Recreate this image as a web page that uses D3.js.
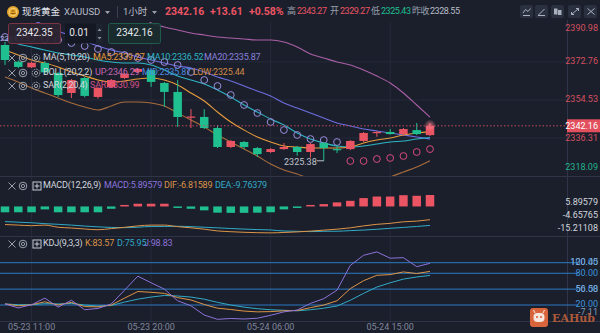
<!DOCTYPE html>
<html>
<head>
<meta charset="utf-8">
<script src="https://cdn.jsdelivr.net/npm/d3@7"></script>
<style>
body { margin: 0; background: #1b1f2c; }
svg { display: block; font-family: Roboto, "Noto Sans CJK SC", sans-serif; }
</style>
</head>
<body>
<svg id="chart" width="600" height="333"></svg>
<script>
'use strict';

// hourly candles, 05-23 09:00 .. 05-24 18:00
const opens  = [2380.91,2372.9,2370.2,2372.3,2367.5,2357.9,2365.1,2356.0,2360.8,2365.1,2368.0,2368.9,2362.7,2358.4,2346.1,2346.4,2341.1,2332.0,2334.4,2331.5,2329.6,2331.0,2332.0,2329.6,2333.9,2331.0,2331.0,2334.9,2338.7,2339.2,2338.2,2340.1,2337.7];
const highs  = [2382.35,2373.5,2373.0,2373.2,2367.9,2364.6,2365.6,2360.8,2364.6,2367.6,2369.9,2369.5,2363.2,2364.1,2350.2,2350.1,2342.5,2335.3,2334.9,2332.0,2331.5,2333.9,2332.5,2333.9,2334.4,2332.9,2335.3,2339.2,2339.6,2340.6,2341.1,2343.5,2343.27];
const lows   = [2371.32,2369.8,2369.9,2367.0,2356.0,2355.5,2355.8,2355.2,2360.3,2364.6,2367.5,2360.8,2351.2,2341.6,2341.1,2340.6,2331.5,2331.5,2331.0,2327.2,2329.1,2330.6,2327.8,2326.9,2325.38,2329.1,2330.5,2334.4,2336.9,2337.9,2337.7,2337.7,2337.2];
const closes = [2373.71,2370.4,2372.4,2367.8,2356.9,2364.1,2356.5,2360.3,2364.1,2367.2,2369.4,2363.2,2358.4,2346.4,2346.6,2341.1,2332.0,2334.9,2332.0,2328.6,2331.0,2332.0,2329.6,2333.4,2331.5,2330.5,2334.9,2338.7,2339.2,2338.2,2340.6,2338.2,2342.16];

const ma5  = [2378.51,2376.11,2373.72,2372.28,2370.36,2367.96,2366.04,2364.13,2363.17,2363.65,2364.60,2365.08,2364.13,2361.73,2357.89,2354.05,2348.78,2343.98,2340.15,2336.79,2334.39,2332.47,2332.00,2331.52,2331.52,2331.52,2332.00,2333.91,2335.35,2336.31,2337.75,2338.71,2339.27];
const ma10 = [2383.31,2381.39,2379.95,2378.51,2377.07,2376.11,2375.15,2373.72,2372.76,2372.28,2372.28,2371.32,2368.92,2366.04,2364.13,2362.21,2359.33,2355.97,2352.14,2348.78,2345.42,2342.55,2338.71,2335.83,2333.91,2332.47,2332.00,2332.47,2333.43,2334.39,2334.87,2335.83,2336.52];
const ma20 = [2397.69,2395.30,2392.90,2390.50,2387.62,2385.23,2382.83,2380.43,2378.51,2377.07,2375.15,2373.72,2372.28,2370.84,2369.88,2367.96,2365.56,2363.65,2361.25,2358.85,2356.45,2353.10,2350.70,2348.30,2345.90,2343.50,2342.07,2340.63,2339.67,2338.71,2337.75,2336.79,2335.87];
const bollUp  = [2429.82,2427.43,2425.51,2423.11,2419.75,2417.36,2414.48,2411.12,2405.36,2400.56,2396.72,2391.46,2389.54,2388.10,2386.66,2385.70,2384.75,2384.27,2383.79,2383.31,2383.31,2382.35,2379.95,2376.59,2374.68,2372.76,2371.32,2368.92,2366.04,2362.69,2357.89,2352.14,2346.29];
const bollLow = [2365.56,2363.17,2360.29,2357.89,2355.49,2353.10,2351.18,2349.74,2351.66,2353.58,2353.58,2353.10,2351.66,2348.30,2344.94,2341.59,2337.75,2334.39,2331.04,2327.68,2323.84,2320.97,2319.05,2316.65,2315.21,2314.25,2313.77,2314.25,2315.21,2317.61,2320.01,2322.40,2325.44];
const sar = [2384.75,2384.27,2384.03,2383.79,2383.31,2381.87,2380.43,2378.99,2377.55,2376.11,2374.68,2373.72,2372.76,2371.32,2367.96,2364.13,2361.25,2356.93,2352.14,2348.30,2343.98,2340.15,2337.75,2335.83,2335.35,2334.39,2325.28,2325.28,2326.24,2326.72,2327.68,2329.60,2330.99];

const macdHist = [-3.0,-3.0,-3.0,-1.5,-3.0,-3.0,-3.0,-3.0,-1.2,0.3,1.4,1.4,1.4,-0.4,-1.2,-2.0,-3.2,-3.3,-3.3,-3.2,-3.0,-1.5,-0.6,0.5,1.2,2.1,2.9,4.3,5.1,5.1,5.8,5.5,5.89579];
const dif = [-9.3,-9.6,-9.9,-9.6,-10.7,-11.1,-11.6,-12.0,-11.4,-10.75,-10.0,-9.6,-9.6,-10.4,-11.0,-11.7,-12.6,-13.0,-13.3,-13.5,-13.6,-13.4,-13.1,-12.7,-12.2,-11.7,-11.0,-10.0,-9.2,-8.7,-7.9,-7.55,-6.81589];
const dea = [-7.8,-8.1,-8.4,-8.85,-9.2,-9.6,-10.1,-10.5,-10.8,-10.9,-10.7,-10.3,-10.3,-10.2,-10.4,-10.7,-11.0,-11.35,-11.65,-11.9,-12.1,-12.65,-12.8,-12.95,-12.8,-12.75,-12.45,-12.15,-11.75,-11.25,-10.8,-10.3,-9.76379];

const kdjK = [22,18.5,20.5,26,20,25,17,16.5,20,33,45.5,44,42,34,29.5,21,14,11.5,8.5,7,7.5,9,9.5,15,20,28,51,66,76.2,77.5,82.5,79.5,83.57];
const kdjD = [22,20.5,20.5,22.5,22,23,20,18,19,25.5,31,35,38,37,35,31,25,20,16,13,11,10,9,11,14,18,29,42,54,62,69,73,75.95];
const kdjJ = [22,14.5,20.5,33,16,29,11,13.5,22,48,74.5,62,50,28,18.5,1,-7.11,-5.5,-6.5,-5,0.5,7,10.5,23,32,48,95,114,120.45,108.5,109.5,92.5,98.83];

const priceTicks = [2390.98, 2372.76, 2354.53, 2336.31, 2318.09];
const prevClose = 2328.55;
const macdTicks = [5.89579, -4.65765, -15.21108];
const kdjLevels = [100, 80, 50, 20];
const kdjRangeLabels = ['120.45', '56.58', '-7.11'];
const timeIdx = [2, 11, 20, 29];
const timeLabels = ['05-23 11:00', '05-23 20:00', '05-24 06:00', '05-24 15:00'];

const RED = '#eb5563', GREEN = '#1fbf90';
const TXT = '#d2d6de', DIM = '#9aa0ac';
const C_MA5 = '#e89c3c', C_MA10 = '#2fb4c4', C_MA20 = '#6d6ee0';
const C_UP = '#a95fa6', C_MID = '#4a8ce0', C_LOW = '#a86c3c';
const C_SAR_HI = '#9a8cdc', C_SAR_LO = '#d84a7c';
const C_K = '#dc9448', C_D = '#31aac6', C_J = '#8c72d8';
const PLOT_R = 567;

const svg = d3.select('#chart');
const defs = svg.append('defs');
svg.append('rect').attr('width', 600).attr('height', 333).attr('fill', '#1b1f2c');

function clip(id, y0, y1) {
	defs.append('clipPath').attr('id', id)
		.append('rect').attr('x', 0).attr('y', y0).attr('width', PLOT_R).attr('height', y1 - y0);
}
clip('cMain', 22, 176);
clip('cMacd', 176, 236);
clip('cKdj', 236, 321);

let glow = defs.append('radialGradient').attr('id', 'glow');
glow.append('stop').attr('offset', '0%').attr('stop-color', '#ff8090').attr('stop-opacity', 0.8);
glow.append('stop').attr('offset', '100%').attr('stop-color', '#ff8090').attr('stop-opacity', 0);

const idx = d3.range(closes.length);
const x = d3.scaleLinear().domain([0, closes.length - 1]).range([5, 430]);
const bodyW = (x(1) - x(0)) * 0.64;
const yMain = d3.scaleLinear().domain([2318.09, 2390.98]).range([176, 24]);
const yMacd = d3.scaleLinear().domain([-15.21108, 5.89579]).range([236, 195]);
const yKdj = d3.scaleLinear().domain([20, 100]).range([305, 262.7]);

// grid + separators
let grid = svg.append('g').attr('stroke', '#262b39').attr('stroke-width', 1);
timeIdx.forEach(function (i) {
	grid.append('line').attr('x1', x(i)).attr('x2', x(i)).attr('y1', 22).attr('y2', 321);
});
priceTicks.slice(1, -1).forEach(function (v) {
	grid.append('line').attr('x1', 0).attr('x2', PLOT_R).attr('y1', yMain(v)).attr('y2', yMain(v));
});
let sep = svg.append('g').attr('stroke', '#2f3546').attr('stroke-width', 1);
[176, 236, 321].forEach(function (y) {
	sep.append('line').attr('x1', 0).attr('x2', 600).attr('y1', y + 0.5).attr('y2', y + 0.5);
});
sep.append('line').attr('x1', PLOT_R + 0.5).attr('x2', PLOT_R + 0.5).attr('y1', 20).attr('y2', 321);

// ---------- main panel ----------
let gMain = svg.append('g').attr('clip-path', 'url(#cMain)');

function priceLine(data, color) {
	gMain.append('path').datum(data)
		.attr('fill', 'none').attr('stroke', color).attr('stroke-width', 1.1)
		.attr('d', d3.line().x(function (d, i) { return x(i); }).y(function (d) { return yMain(d); }).curve(d3.curveMonotoneX));
}
priceLine(bollUp, C_UP);
priceLine(bollLow, C_LOW);
priceLine(ma20, C_MA20);
priceLine(ma10, C_MA10);
priceLine(ma5, C_MA5);

gMain.selectAll('.sar').data(idx).enter().append('circle')
	.attr('cx', function (i) { return x(i); })
	.attr('cy', function (i) { return yMain(sar[i]); })
	.attr('r', 3.4).attr('fill', 'none').attr('stroke-width', 1)
	.attr('stroke', function (i) { return sar[i] > closes[i] ? C_SAR_HI : C_SAR_LO; });

function candleColor(i) { return closes[i] >= opens[i] ? RED : GREEN; }

gMain.selectAll('.wick').data(idx).enter().append('line')
	.attr('x1', function (i) { return x(i); }).attr('x2', function (i) { return x(i); })
	.attr('y1', function (i) { return yMain(highs[i]); })
	.attr('y2', function (i) { return yMain(lows[i]); })
	.attr('stroke', candleColor).attr('stroke-width', 1);

gMain.selectAll('.body').data(idx).enter().append('rect')
	.attr('x', function (i) { return x(i) - bodyW / 2; })
	.attr('y', function (i) { return yMain(Math.max(opens[i], closes[i])); })
	.attr('width', bodyW)
	.attr('height', function (i) {
		return Math.max(1.2, yMain(Math.min(opens[i], closes[i])) - yMain(Math.max(opens[i], closes[i])));
	})
	.attr('fill', candleColor);

const last = closes.length - 1;
gMain.append('circle').attr('cx', x(last)).attr('cy', yMain(highs[last]) + 2).attr('r', 6).attr('fill', 'url(#glow)');

// current price line
svg.append('line').attr('x1', 0).attr('x2', PLOT_R)
	.attr('y1', yMain(closes[last])).attr('y2', yMain(closes[last]))
	.attr('stroke', '#c44a5a').attr('stroke-dasharray', '1.5,2');

// lowest-low marker
let lowI = d3.minIndex(lows);
svg.append('line').attr('x1', x(lowI) - 7).attr('x2', x(lowI))
	.attr('y1', yMain(lows[lowI])).attr('y2', yMain(lows[lowI])).attr('stroke', '#c0c4cc');
svg.append('text').attr('x', x(lowI) - 7).attr('y', yMain(lows[lowI]) + 4)
	.attr('text-anchor', 'end').attr('font-size', 9).attr('fill', '#c0c4cc')
	.text(lows[lowI].toFixed(2));

// price axis
svg.selectAll('.ptick').data(priceTicks).enter().append('text')
	.attr('x', 598).attr('text-anchor', 'end').attr('font-size', 9)
	.attr('dominant-baseline', 'middle')
	.attr('y', function (v) { return Math.min(168, Math.max(29, yMain(v) + (v === 2336.31 ? 1 : 0))); })
	.attr('fill', function (v) { return v >= prevClose ? '#d44f5f' : '#22b38a'; })
	.text(function (v) { return v.toFixed(2); });
svg.append('rect').attr('x', PLOT_R).attr('y', yMain(closes[last]) - 6.5).attr('width', 33).attr('height', 13)
	.attr('fill', '#e2505d');
svg.append('text').attr('x', 598).attr('y', yMain(closes[last]) + 0.5).attr('text-anchor', 'end')
	.attr('dominant-baseline', 'middle').attr('font-size', 9).attr('fill', '#ffffff')
	.text(closes[last].toFixed(2));

// ---------- MACD ----------
let gMacd = svg.append('g').attr('clip-path', 'url(#cMacd)');
gMacd.selectAll('.bar').data(idx).enter().append('rect')
	.attr('x', function (i) { return x(i) - bodyW / 2; })
	.attr('y', function (i) { return macdHist[i] >= 0 ? Math.min(yMacd(macdHist[i]), yMacd(0) - 1.5) : yMacd(0); })
	.attr('width', bodyW)
	.attr('height', function (i) { return Math.max(1.5, Math.abs(yMacd(macdHist[i]) - yMacd(0))); })
	.attr('fill', function (i) { return macdHist[i] >= 0 ? RED : GREEN; });

function macdLine(data, color) {
	gMacd.append('path').datum(data).attr('fill', 'none').attr('stroke', color).attr('stroke-width', 1)
		.attr('d', d3.line().x(function (d, i) { return x(i); }).y(function (d) { return yMacd(d); }).curve(d3.curveMonotoneX));
}
macdLine(dea, C_D);
macdLine(dif, C_K);

svg.selectAll('.mtick').data(macdTicks).enter().append('text')
	.attr('x', 598).attr('text-anchor', 'end').attr('font-size', 9).attr('fill', TXT)
	.attr('dominant-baseline', 'middle')
	.attr('y', function (v) { return Math.min(229, Math.max(203, yMacd(v))); })
	.text(function (v) { return v.toFixed(5); });

// ---------- KDJ ----------
let gKdj = svg.append('g').attr('clip-path', 'url(#cKdj)');
kdjLevels.forEach(function (v) {
	gKdj.append('line').attr('x1', 0).attr('x2', PLOT_R).attr('y1', yKdj(v)).attr('y2', yKdj(v))
		.attr('stroke', '#2b7bc2').attr('stroke-width', 1);
	svg.append('line').attr('x1', PLOT_R).attr('x2', 578).attr('y1', yKdj(v)).attr('y2', yKdj(v))
		.attr('stroke', '#2b7bc2');
});
function kdjLine(data, color) {
	gKdj.append('path').datum(data).attr('fill', 'none').attr('stroke', color).attr('stroke-width', 1)
		.attr('d', d3.line().x(function (d, i) { return x(i); }).y(function (d) { return yKdj(d); }));
}
kdjLine(kdjD, C_D);
kdjLine(kdjK, C_K);
kdjLine(kdjJ, C_J);

svg.selectAll('.klev').data(kdjLevels).enter().append('text')
	.attr('x', 598).attr('text-anchor', 'end').attr('font-size', 9).attr('fill', '#3d92dc')
	.attr('dominant-baseline', 'middle')
	.attr('y', function (v) { return yKdj(v); })
	.text(function (v) { return v.toFixed(2); });
svg.selectAll('.krng').data(kdjRangeLabels).enter().append('text')
	.attr('x', 598).attr('text-anchor', 'end').attr('font-size', 9).attr('fill', '#9ec4ea')
	.attr('fill-opacity', 0.75).attr('dominant-baseline', 'middle')
	.attr('y', function (d, i) { return [yKdj(100), yKdj(50), yKdj(20) + 8][i]; })
	.text(function (d) { return d; });

// time axis
svg.selectAll('.ttick').data(timeIdx).enter().append('text')
	.attr('x', function (i) { return x(i); }).attr('y', 328)
	.attr('text-anchor', 'middle').attr('dominant-baseline', 'middle')
	.attr('font-size', 9).attr('fill', '#80869a')
	.text(function (d, k) { return timeLabels[k]; });

// ---------- legends ----------
function icoCross(g, cx, cy) {
	g.append('path').attr('d', 'M' + (cx - 3.5) + ',' + (cy - 3.5) + 'L' + (cx + 3.5) + ',' + (cy + 3.5) +
		'M' + (cx + 3.5) + ',' + (cy - 3.5) + 'L' + (cx - 3.5) + ',' + (cy + 3.5))
		.attr('stroke', DIM).attr('stroke-width', 1).attr('fill', 'none');
}
function icoEye(g, cx, cy, dashed) {
	g.append('circle').attr('cx', cx).attr('cy', cy).attr('r', 3.8).attr('fill', 'none')
		.attr('stroke', DIM).attr('stroke-dasharray', dashed ? '1.6,0.9' : null);
	g.append('circle').attr('cx', cx).attr('cy', cy).attr('r', 1.6).attr('fill', 'none').attr('stroke', DIM);
}
function icoPlus(g, cx, cy) {
	g.append('rect').attr('x', cx - 4).attr('y', cy - 4).attr('width', 8).attr('height', 8)
		.attr('fill', 'none').attr('stroke', '#c8ccd4');
	g.append('path').attr('d', 'M' + (cx - 2.5) + ',' + cy + 'H' + (cx + 2.5) + 'M' + cx + ',' + (cy - 2.5) + 'V' + (cy + 2.5))
		.attr('stroke', '#c8ccd4');
}
function legendRow(y, third, items) {
	let g = svg.append('g');
	icoCross(g, 12, y);
	icoEye(g, 23, y, false);
	if (third === 'plus') icoPlus(g, 37, y); else icoEye(g, 36, y, true);
	items.forEach(function (it) {
		g.append('text').attr('x', it[0]).attr('y', y).attr('dominant-baseline', 'middle')
			.attr('font-size', 9).attr('letter-spacing', -0.2).attr('fill', it[2]).text(it[1]);
	});
}
const f2 = function (a) { return a[a.length - 1].toFixed(2); };
legendRow(58, 'eye', [[43, 'MA(5,10,20)', TXT], [93, 'MA5:' + f2(ma5), C_MA5], [147, 'MA10:' + f2(ma10), C_MA10], [204, 'MA20:' + f2(ma20), '#8a80dc']]);
legendRow(73, 'eye', [[43, 'BOLL(20,2,2)', TXT], [95, 'UP:' + f2(bollUp), '#c365b4'], [142, 'MID:' + f2(ma20), C_MID], [193, 'LOW:' + f2(bollLow), '#d08a48']]);
legendRow(86, 'eye', [[43, 'SAR(2,20,4)', TXT], [90, 'SAR:' + f2(sar), '#d4508a']]);
legendRow(186, 'plus', [[43, 'MACD(12,26,9)', TXT], [104, 'MACD:' + macdHist[last].toFixed(5), '#8c74dc'], [164, 'DIF:' + dif[last].toFixed(5), C_K], [215, 'DEA:' + dea[last].toFixed(5), C_D]]);
legendRow(244, 'plus', [[43, 'KDJ(9,3,3)', TXT], [85, 'K:' + f2(kdjK), C_K], [117, 'D:' + f2(kdjD), C_D], [144, 'J:' + f2(kdjJ), C_J]]);

// ---------- order boxes ----------
svg.append('text').attr('x', 0).attr('y', 41).attr('font-size', 8).attr('fill', '#b8b0e0').text('2388.85');
let ob = svg.append('g').attr('font-size', 10).attr('text-anchor', 'middle').attr('dominant-baseline', 'middle');
ob.append('rect').attr('x', 8.5).attr('y', 23.5).attr('width', 52).attr('height', 20).attr('rx', 2)
	.attr('fill', '#2c2330').attr('fill-opacity', 0.93).attr('stroke', '#7c3444');
ob.append('text').attr('x', 34.5).attr('y', 33.5).attr('fill', '#e8e8ee').text('2342.35');
ob.append('rect').attr('x', 65).attr('y', 23.5).attr('width', 31).attr('height', 20).attr('fill', '#141823');
ob.append('text').attr('x', 79).attr('y', 33.5).attr('fill', '#e8e8ee').text('0.01');
ob.append('rect').attr('x', 96).attr('y', 23.5).attr('width', 7).attr('height', 20).attr('fill', '#1e2330');
ob.append('path').attr('d', 'M97.5,31L99.5,28.5L101.5,31ZM97.5,37L99.5,39.5L101.5,37Z').attr('fill', '#8a909c');
ob.append('rect').attr('x', 108.5).attr('y', 23.5).attr('width', 52).attr('height', 20).attr('rx', 2)
	.attr('fill', '#1a2c2e').attr('fill-opacity', 0.9).attr('stroke', '#1f5a4b');
ob.append('text').attr('x', 134.5).attr('y', 33.5).attr('fill', '#e8e8ee').text('2342.16');

// ---------- header ----------
let hd = svg.append('g').attr('dominant-baseline', 'middle');
hd.append('circle').attr('cx', 13).attr('cy', 12).attr('r', 6).attr('fill', '#e4a62c');
hd.append('circle').attr('cx', 13).attr('cy', 12).attr('r', 3.8).attr('fill', 'none').attr('stroke', '#f6d27a').attr('stroke-width', 1);
hd.append('path').attr('d', 'M10.5,13.5h5M11.5,11h3').attr('stroke', '#8a5a10').attr('stroke-width', 1.2);
const hdr = [
	[22, '现货黄金', 9.5, '#e4e6ec', 'normal', 0],
	[64, 'XAUUSD', 9.5, '#b8bcc6', 'normal', 0],
	[123, '1小时', 9.5, '#b8bcc6', 'normal', 0],
	[165, '2342.16', 10.5, RED, 'bold', 0],
	[210, '+13.61', 10.5, RED, 'bold', 0],
	[249, '+0.58%', 10.5, RED, 'bold', 0],
	[287, '高', 9, '#9aa0ac', 'normal', 0],
	[297, '2343.27', 9, RED, 'normal', -0.45],
	[330, '开', 9, '#9aa0ac', 'normal', 0],
	[340, '2329.27', 9, RED, 'normal', -0.45],
	[371, '低', 9, '#9aa0ac', 'normal', 0],
	[381, '2325.43', 9, GREEN, 'normal', -0.45],
	[412, '昨收', 9, '#9aa0ac', 'normal', -0.5],
	[430, '2328.55', 9, '#b8bcc6', 'normal', -0.45]
];
hdr.forEach(function (h) {
	hd.append('text').attr('x', h[0]).attr('y', 12).attr('font-size', h[2]).attr('fill', h[3])
		.attr('font-weight', h[4]).attr('letter-spacing', h[5]).text(h[1]);
});
hd.append('path').attr('d', 'M105,11L110,11L107.5,14ZM152,11L157,11L154.5,14Z').attr('fill', '#9aa0ac');
hd.append('line').attr('x1', 117.5).attr('x2', 117.5).attr('y1', 6).attr('y2', 18).attr('stroke', '#3a4050');

// toolbar buttons
[520, 535, 551, 568, 584].forEach(function (bx) {
	svg.append('rect').attr('x', bx).attr('y', 5).attr('width', 13).attr('height', 13).attr('rx', 2).attr('fill', '#2a303f');
});
let tb = svg.append('g').attr('stroke', '#aab0bc').attr('fill', 'none').attr('stroke-width', 1);
tb.append('path').attr('d', 'M523,15.5H530M523,13L525.5,9.5L528,11.5L530.5,8.5');
tb.append('path').attr('d', 'M538.5,15L544.5,9M538,15.5H545');
tb.append('rect').attr('x', 554.5).attr('y', 9).attr('width', 2.5).attr('height', 5).attr('fill', '#aab0bc');
tb.append('rect').attr('x', 558.5).attr('y', 10.5).attr('width', 2.5).attr('height', 4).attr('fill', '#aab0bc');
tb.append('path').attr('d', 'M571.5,14.5L578.5,8.5M571.5,12V14.5H574M576,8.5H578.5V11');
tb.append('path').attr('d', 'M587.5,8.5L594.5,14.5M594.5,8.5L587.5,14.5');

// watermark
let wm = svg.append('g');
wm.append('rect').attr('x', 530).attr('y', 308).attr('width', 18).attr('height', 19).attr('rx', 3).attr('fill', '#d8643c');
wm.append('rect').attr('x', 533.5).attr('y', 313).attr('width', 11).attr('height', 9).attr('rx', 4).attr('fill', '#f6e8e0');
wm.append('circle').attr('cx', 537).attr('cy', 317).attr('r', 1.1).attr('fill', '#d8643c');
wm.append('circle').attr('cx', 541).attr('cy', 317).attr('r', 1.1).attr('fill', '#d8643c');
wm.append('path').attr('d', 'M535,313L533.5,310M543,313L544.5,310').attr('stroke', '#f6e8e0');
wm.append('text').attr('x', 552).attr('y', 322).attr('font-family', '"DejaVu Serif", serif')
	.attr('font-weight', 'bold').attr('font-size', 11).attr('fill', '#c8643c').attr('fill-opacity', 0.85).text('EAHub');
</script>
</body>
</html>
